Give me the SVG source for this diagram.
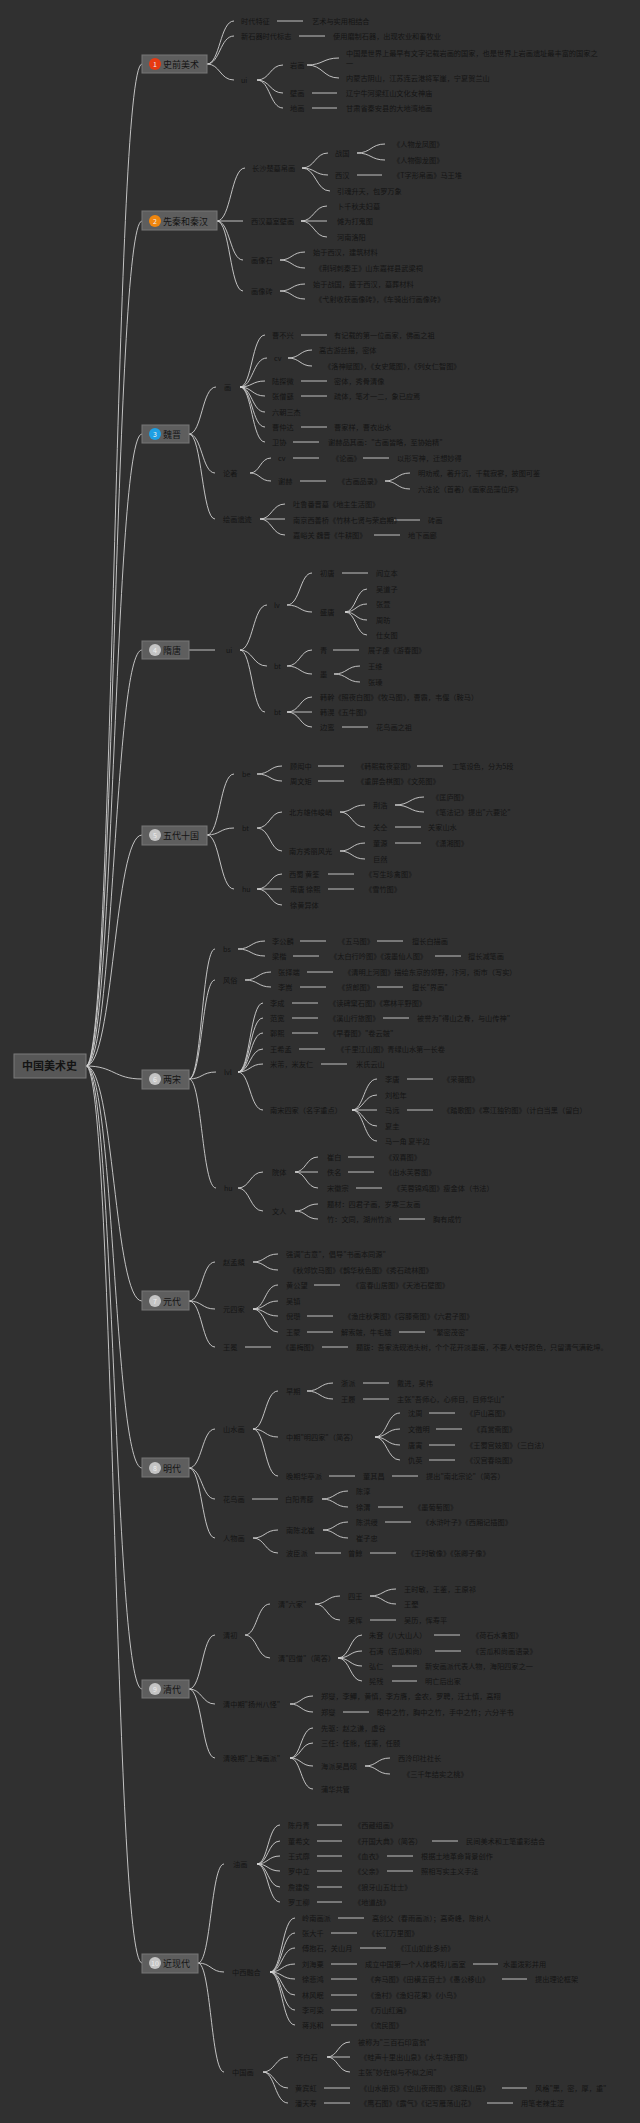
<svg xmlns="http://www.w3.org/2000/svg" width="640" height="2123" viewBox="0 0 640 2123">
<style>
text{font-family:"Noto Sans CJK SC","Noto Sans",sans-serif;fill:#141414}
.t{font-size:7.2px}
.s{font-size:9px}
.r{font-size:11px;font-weight:bold}
.n{font-size:7px;fill:#eeeeee}
.box{fill:#5e5e5e;stroke:#777;stroke-width:1}
#conn path{fill:none;stroke:#d2d2d2;stroke-width:0.9}
</style>
<rect width="640" height="2123" fill="#303030"/>
<g id="conn">
<path d="M86 1066C114 1066 114 64 142 64M86 1066C114 1066 114 221 142 221M86 1066C114 1066 114 434 142 434M86 1066C114 1066 114 650 142 650M86 1066C114 1066 114 835 142 835M86 1066C114 1066 114 1079 142 1079M86 1066C114 1066 114 1301 142 1301M86 1066C114 1066 114 1468 142 1468M86 1066C114 1066 114 1689 142 1689M86 1066C114 1066 114 1963 142 1963"/>
<path d="M207 64C220 64 220 21 234 21M207 64C220 64 220 36 234 36M207 64C220 64 220 80 234 80M277 21H303M299 36H325M257 80C270 80 270 65 283 65M257 80C270 80 270 93 283 93M257 80C270 80 270 108 283 108M307 65C323 65 323 58 339 58M307 65C323 65 323 78 339 78M312 93H337M312 108H337"/>
<path d="M217 221C231 221 231 168 245 168M217 221H243M217 221C230 221 230 260 243 260M217 221C230 221 230 291 243 291M302 168C315 168 315 153 328 153M302 168C315 168 315 175 328 175M302 168C316 168 316 191 330 191M357 153C371 153 371 144 385 144M357 153C371 153 371 160 385 160M357 175H382M301 221C314 221 314 206 327 206M301 221H327M301 221C314 221 314 237 327 237M280 260C292 260 292 252 305 252M280 260C292 260 292 268 305 268M280 291C292 291 292 284 305 284M280 291C292 291 292 299 305 299"/>
<path d="M189 434C202 434 202 387 216 387M189 434C202 434 202 473 215 473M189 434C202 434 202 519 215 519M240 387C252 387 252 335 265 335M240 387C253 387 253 358 267 358M240 387C252 387 252 381 265 381M240 387C252 387 252 396 265 396M240 387C252 387 252 412 265 412M240 387C252 387 252 427 265 427M240 387C252 387 252 442 265 442M288 358C300 358 300 350 312 350M288 358C300 358 300 366 312 366M301 335H327M301 381H327M301 396H327M301 427H327M293 442H319M250 473C260 473 260 458 271 458M250 473C260 473 260 481 271 481M293 458H319M363 458H389M300 481H326M385 481C397 481 397 473 410 473M385 481C397 481 397 489 410 489M260 519C272 519 272 504 285 504M260 519H285M260 519C272 519 272 535 285 535M394 520H420M374 535H400"/>
<path d="M189 650H215M240 650C253 650 253 605 267 605M240 650C253 650 253 666 267 666M240 650C252 650 252 712 265 712M287 605C300 605 300 573 312 573M287 605C300 605 300 612 312 612M342 573H368M345 612C356 612 356 589 367 589M345 612C356 612 356 604 367 604M345 612C356 612 356 620 367 620M345 612C356 612 356 635 367 635M287 666C300 666 300 650 312 650M287 666C300 666 300 674 312 674M333 650H359M334 674C347 674 347 666 360 666M334 674C347 674 347 682 360 682M287 712C300 712 300 697 312 697M287 712H312M287 712C300 712 300 727 312 727M342 727H368"/>
<path d="M207 835C220 835 220 774 234 774M207 835C220 835 220 828 234 828M207 835C220 835 220 889 234 889M257 774C270 774 270 766 282 766M257 774C270 774 270 781 282 781M318 766H344M417 766H443M318 781H344M257 828C270 828 270 812 282 812M257 828C270 828 270 851 282 851M340 812C352 812 352 805 365 805M340 812C352 812 352 827 365 827M395 805C410 805 410 797 424 797M395 805C410 805 410 812 424 812M395 827H421M340 851C352 851 352 843 365 843M340 851C352 851 352 859 365 859M395 843H421M257 889C270 889 270 874 282 874M257 889H282M257 889C270 889 270 905 282 905M328 874H354M328 889H354"/>
<path d="M189 1079C202 1079 202 949 215 949M189 1079C202 1079 202 980 215 980M189 1079C202 1079 202 1072 216 1072M189 1079C202 1079 202 1188 216 1188M238 949C251 949 251 941 265 941M238 949C251 949 251 956 265 956M300 941H326M377 941H403M293 956H319M435 956H461M245 980C258 980 258 972 271 972M245 980C258 980 258 987 271 987M307 972H333M300 987H326M377 987H403M238 1072C250 1072 250 1003 263 1003M238 1072C250 1072 250 1018 263 1018M238 1072C250 1072 250 1033 263 1033M238 1072C250 1072 250 1049 263 1049M238 1072C250 1072 250 1064 263 1064M238 1072C250 1072 250 1110 263 1110M292 1003H318M292 1018H318M383 1018H409M292 1033H318M299 1049H325M321 1064H347M352 1110C364 1110 364 1079 377 1079M352 1110C364 1110 364 1095 377 1095M352 1110H377M352 1110C364 1110 364 1126 377 1126M352 1110C364 1110 364 1141 377 1141M407 1079H433M407 1110H433M238 1188C250 1188 250 1172 263 1172M238 1188C250 1188 250 1211 263 1211M295 1172C306 1172 306 1157 318 1157M295 1172H318M295 1172C306 1172 306 1188 318 1188M348 1157H374M348 1172H374M356 1188H382M295 1211C306 1211 306 1204 318 1204M295 1211C306 1211 306 1219 318 1219M399 1219H425"/>
<path d="M189 1301C202 1301 202 1262 215 1262M189 1301C202 1301 202 1309 215 1309M189 1301C202 1301 202 1347 215 1347M253 1262C265 1262 265 1254 278 1254M253 1262C265 1262 265 1270 278 1270M253 1309C265 1309 265 1285 278 1285M253 1309C265 1309 265 1301 278 1301M253 1309C265 1309 265 1316 278 1316M253 1309C265 1309 265 1332 278 1332M314 1285H340M307 1316H333M307 1332H333M399 1332H425M245 1347H271M322 1347H348"/>
<path d="M189 1468C202 1468 202 1429 215 1429M189 1468C202 1468 202 1499 215 1499M189 1468C202 1468 202 1538 215 1538M253 1429C265 1429 265 1391 278 1391M253 1429C265 1429 265 1437 278 1437M253 1429C265 1429 265 1476 278 1476M307 1391C320 1391 320 1383 333 1383M307 1391C320 1391 320 1399 333 1399M363 1383H389M363 1399H389M375 1437C387 1437 387 1413 400 1413M375 1437C387 1437 387 1429 400 1429M375 1437C387 1437 387 1445 400 1445M375 1437C387 1437 387 1460 400 1460M429 1413H455M436 1429H462M429 1445H455M429 1460H455M329 1476H355M392 1476H418M252 1499H278M322 1499C335 1499 335 1491 348 1491M322 1499C335 1499 335 1507 348 1507M378 1507H403M253 1538C265 1538 265 1530 278 1530M253 1538C265 1538 265 1553 278 1553M323 1530C335 1530 335 1522 348 1522M323 1530C335 1530 335 1538 348 1538M385 1522H411M315 1553H341M370 1553H396"/>
<path d="M189 1689C202 1689 202 1635 215 1635M189 1689C202 1689 202 1704 215 1704M189 1689C202 1689 202 1758 215 1758M245 1635C257 1635 257 1604 270 1604M245 1635C257 1635 257 1658 270 1658M315 1604C327 1604 327 1596 340 1596M315 1604C327 1604 327 1620 340 1620M370 1596C383 1596 383 1589 396 1589M370 1596C383 1596 383 1604 396 1604M370 1620H396M338 1658C350 1658 350 1635 362 1635M338 1658C350 1658 350 1651 362 1651M338 1658C350 1658 350 1666 362 1666M338 1658C350 1658 350 1681 362 1681M434 1635H460M435 1651H461M392 1666H417M392 1681H417M290 1704C301 1704 301 1696 313 1696M290 1704C301 1704 301 1712 313 1712M343 1712H369M290 1758C301 1758 301 1728 313 1728M290 1758C301 1758 301 1743 313 1743M290 1758C301 1758 301 1766 313 1766M290 1758C301 1758 301 1789 313 1789M365 1766C377 1766 377 1758 390 1758M365 1766C377 1766 377 1774 390 1774"/>
<path d="M198 1963C211 1963 211 1864 224 1864M198 1963C211 1963 211 1972 224 1972M198 1963C211 1963 211 2072 224 2072M257 1864C268 1864 268 1825 280 1825M257 1864C268 1864 268 1841 280 1841M257 1864C268 1864 268 1856 280 1856M257 1864C268 1864 268 1871 280 1871M257 1864C268 1864 268 1887 280 1887M257 1864C268 1864 268 1902 280 1902M317 1825H342M317 1841H342M432 1841H458M317 1856H342M387 1856H413M317 1871H342M387 1871H413M317 1887H342M317 1902H342M270 1972C282 1972 282 1918 295 1918M270 1972C282 1972 282 1933 295 1933M270 1972C282 1972 282 1948 295 1948M270 1972C282 1972 282 1964 295 1964M270 1972C282 1972 282 1979 295 1979M270 1972C282 1972 282 1995 295 1995M270 1972C282 1972 282 2010 295 2010M270 1972C282 1972 282 2025 295 2025M338 1918H364M331 1933H357M360 1948H386M331 1964H357M473 1964H498M331 1979H357M502 1979H527M331 1995H357M331 2010H357M331 2025H357M263 2072C275 2072 275 2057 288 2057M263 2072C275 2072 275 2088 288 2088M263 2072C275 2072 275 2103 288 2103M327 2057C338 2057 338 2042 350 2042M327 2057H350M327 2057C338 2057 338 2072 350 2072M324 2088H350M502 2088H527M324 2103H350M487 2103H513"/>
</g>
<g id="root"><rect x="14" y="1054" width="72" height="24" fill="#575757" stroke="#7a7a7a"/><text class="r" x="22" y="1070">中国美术史</text></g>
<g id="s1"><rect class="box" x="142" y="55" width="65" height="18"/><circle cx="155" cy="64" r="6" fill="#e63a12"/><text class="n" x="153" y="66.5">1</text><text class="s" x="163" y="67.5">史前美术</text></g>
<g id="s1c" class="t">
<text class="t" x="241" y="23.5">时代特征</text><text class="t" x="312" y="23.5">艺术与实用相结合</text>
<text class="t" x="241" y="38.5">新石器时代标志</text><text class="t" x="333" y="38.5">使用磨制石器，出现农业和畜牧业</text>
<text class="t" x="241" y="82.5">ui</text>
<text class="t" x="290" y="67.5">岩画</text>
<text class="t" x="346" y="55.5">中国是世界上最早有文字记载岩画的国家，也是世界上岩画遗址最丰富的国家之</text><text class="t" x="346" y="65.5">一</text>
<text class="t" x="346" y="80.5">内蒙古阴山，江苏连云港将军崖，宁夏贺兰山</text>
<text class="t" x="290" y="95.5">壁画</text><text class="t" x="346" y="95.5">辽宁牛河梁红山文化女神庙</text>
<text class="t" x="290" y="110.5">地画</text><text class="t" x="346" y="110.5">甘肃省秦安县的大地湾地画</text>
</g>
<g id="s2"><rect class="box" x="142" y="211" width="75" height="19"/><circle cx="155" cy="221" r="6" fill="#f0860e"/><text class="n" x="153" y="223.5">2</text><text class="s" x="163" y="224.5">先秦和秦汉</text></g>
<g id="s2c">
<text class="t" x="252" y="170.5">长沙楚墓帛画</text>
<text class="t" x="335" y="155.5">战国</text><text class="t" x="393" y="146.5">《人物龙凤图》</text><text class="t" x="393" y="162.5">《人物御龙图》</text>
<text class="t" x="335" y="177.5">西汉</text><text class="t" x="393" y="177.5">《T字形帛画》马王堆</text>
<text class="t" x="337" y="193.5">引魂升天，包罗万象</text>
<text class="t" x="251" y="223.5">西汉墓室壁画</text>
<text class="t" x="337" y="208.5">卜千秋夫妇墓</text><text class="t" x="337" y="223.5">傩为打鬼图</text><text class="t" x="337" y="239.5">河南洛阳</text>
<text class="t" x="251" y="262.5">画像石</text><text class="t" x="313" y="254.5">始于西汉，建筑材料</text><text class="t" x="315" y="270.5">《荆轲刺秦王》山东嘉祥县武梁祠</text>
<text class="t" x="251" y="293.5">画像砖</text><text class="t" x="313" y="286.5">始于战国，盛于西汉，墓葬材料</text><text class="t" x="315" y="301.5">《弋射收获画像砖》，《车骑出行画像砖》</text>
</g>
<g id="s3"><rect class="box" x="142" y="425" width="47" height="18"/><circle cx="155" cy="434" r="6" fill="#1e9fe3"/><text class="n" x="153" y="436.5">3</text><text class="s" x="163" y="437.5">魏晋</text></g>
<g id="s3c">
<text class="t" x="224" y="389.5">画</text>
<text class="t" x="272" y="337.5">曹不兴</text><text class="t" x="334" y="337.5">有记载的第一位画家，佛画之祖</text>
<text class="t" x="274" y="360.5">cv</text><text class="t" x="319" y="352.5">高古游丝描，密体</text><text class="t" x="324" y="368.5">《洛神赋图》，《女史箴图》，《列女仁智图》</text>
<text class="t" x="272" y="383.5">陆探微</text><text class="t" x="334" y="383.5">密体，秀骨清像</text>
<text class="t" x="272" y="398.5">张僧繇</text><text class="t" x="334" y="398.5">疏体，笔才一二，象已应焉</text>
<text class="t" x="272" y="414.5">六朝三杰</text>
<text class="t" x="272" y="429.5">曹仲达</text><text class="t" x="334" y="429.5">曹家样，曹衣出水</text>
<text class="t" x="272" y="444.5">卫协</text><text class="t" x="328" y="444.5">谢赫品其画："古画皆略，至协始精"</text>
<text class="t" x="223" y="475.5">论著</text>
<text class="t" x="278" y="460.5">cv</text><text class="t" x="332" y="460.5">《论画》</text><text class="t" x="397" y="460.5">以形写神，迁想妙得</text>
<text class="t" x="278" y="483.5">谢赫</text><text class="t" x="338" y="483.5">《古画品录》</text>
<text class="t" x="418" y="475.5">明劝戒，著升沉，千载寂寥，披图可鉴</text><text class="t" x="418" y="491.5">六法论（首著）《画家品藻位序》</text>
<text class="t" x="223" y="521.5">绘画遗迹</text>
<text class="t" x="293" y="506.5">吐鲁番晋墓《地主生活图》</text>
<text class="t" x="293" y="522.5">南京西善桥《竹林七贤与荣启期》</text><text class="t" x="428" y="522.5">砖画</text>
<text class="t" x="293" y="537.5">嘉峪关 魏晋《牛耕图》</text><text class="t" x="408" y="537.5">地下画廊</text>
</g>
<g id="s4"><rect class="box" x="142" y="641" width="47" height="18"/><circle cx="155" cy="650" r="6" fill="#c4c4c4"/><text class="n" x="153" y="652.5">4</text><text class="s" x="163" y="653.5">隋唐</text></g>
<g id="s4c">
<text class="t" x="226" y="652.5">ui</text>
<text class="t" x="274" y="607.5">lv</text>
<text class="t" x="320" y="575.5">初唐</text><text class="t" x="376" y="575.5">阎立本</text>
<text class="t" x="320" y="614.5">盛唐</text>
<text class="t" x="376" y="591.5">吴道子</text><text class="t" x="376" y="606.5">张萱</text><text class="t" x="376" y="622.5">周昉</text><text class="t" x="376" y="637.5">仕女图</text>
<text class="t" x="274" y="668.5">bt</text>
<text class="t" x="320" y="652.5">青</text><text class="t" x="368" y="652.5">展子虔《游春图》</text>
<text class="t" x="320" y="676.5">墨</text><text class="t" x="368" y="668.5">王维</text><text class="t" x="368" y="684.5">张璪</text>
<text class="t" x="274" y="714.5">bt</text>
<text class="t" x="320" y="699.5">韩幹《照夜白图》《牧马图》，曹霸，韦偃（鞍马）</text>
<text class="t" x="320" y="714.5">韩滉《五牛图》</text>
<text class="t" x="320" y="729.5">边鸾</text><text class="t" x="376" y="729.5">花鸟画之祖</text>
</g>
<g id="s5"><rect class="box" x="142" y="826" width="65" height="19"/><circle cx="155" cy="835" r="6" fill="#c4c4c4"/><text class="n" x="153" y="837.5">5</text><text class="s" x="163" y="838.5">五代十国</text></g>
<g id="s5c">
<text class="t" x="242" y="776.5">be</text>
<text class="t" x="290" y="768.5">顾闳中</text><text class="t" x="357" y="768.5">《韩熙载夜宴图》</text><text class="t" x="452" y="768.5">工笔设色，分为5段</text>
<text class="t" x="290" y="783.5">周文矩</text><text class="t" x="357" y="783.5">《重屏会棋图》《文苑图》</text>
<text class="t" x="242" y="830.5">bt</text>
<text class="t" x="289" y="814.5">北方雄伟峻峭</text>
<text class="t" x="373" y="807.5">荆浩</text><text class="t" x="432" y="799.5">《匡庐图》</text><text class="t" x="432" y="814.5">《笔法记》提出"六要论"</text>
<text class="t" x="373" y="829.5">关仝</text><text class="t" x="428" y="829.5">关家山水</text>
<text class="t" x="289" y="853.5">南方秀丽风光</text>
<text class="t" x="373" y="845.5">董源</text><text class="t" x="432" y="845.5">《潇湘图》</text>
<text class="t" x="373" y="861.5">巨然</text>
<text class="t" x="242" y="891.5">hu</text>
<text class="t" x="289" y="876.5">西蜀 黄筌</text><text class="t" x="365" y="876.5">《写生珍禽图》</text>
<text class="t" x="290" y="891.5">南唐 徐熙</text><text class="t" x="365" y="891.5">《雪竹图》</text>
<text class="t" x="290" y="907.5">徐黄异体</text>
</g>
<g id="s6"><rect class="box" x="142" y="1070" width="47" height="19"/><circle cx="155" cy="1079" r="6" fill="#c4c4c4"/><text class="n" x="153" y="1081.5">6</text><text class="s" x="163" y="1082.5">两宋</text></g>
<g id="s6c">
<text class="t" x="223" y="951.5">bs</text>
<text class="t" x="272" y="943.5">李公麟</text><text class="t" x="338" y="943.5">《五马图》</text><text class="t" x="412" y="943.5">擅长白描画</text>
<text class="t" x="272" y="958.5">梁楷</text><text class="t" x="330" y="958.5">《太白行吟图》《泼墨仙人图》</text><text class="t" x="468" y="958.5">擅长减笔画</text>
<text class="t" x="223" y="982.5">风俗</text>
<text class="t" x="278" y="974.5">张择端</text><text class="t" x="344" y="974.5">《清明上河图》描绘东京的郊野，汴河，街市（写实）</text>
<text class="t" x="278" y="989.5">李嵩</text><text class="t" x="338" y="989.5">《货郎图》</text><text class="t" x="412" y="989.5">擅长"界画"</text>
<text class="t" x="224" y="1074.5">lvl</text>
<text class="t" x="270" y="1005.5">李成</text><text class="t" x="329" y="1005.5">《读碑窠石图》《寒林平野图》</text>
<text class="t" x="270" y="1020.5">范宽</text><text class="t" x="329" y="1020.5">《溪山行旅图》</text><text class="t" x="417" y="1020.5">被誉为"得山之骨，与山传神"</text>
<text class="t" x="270" y="1035.5">郭熙</text><text class="t" x="329" y="1035.5">《早春图》"卷云皴"</text>
<text class="t" x="270" y="1051.5">王希孟</text><text class="t" x="337" y="1051.5">《千里江山图》青绿山水第一长卷</text>
<text class="t" x="270" y="1066.5">米芾，米友仁</text><text class="t" x="356" y="1066.5">米氏云山</text>
<text class="t" x="270" y="1112.5">南宋四家（名字重点）</text>
<text class="t" x="385" y="1081.5">李唐</text><text class="t" x="443" y="1081.5">《采薇图》</text>
<text class="t" x="385" y="1097.5">刘松年</text>
<text class="t" x="385" y="1112.5">马远</text><text class="t" x="443" y="1112.5">《踏歌图》《寒江独钓图》（计白当黑（留白）</text>
<text class="t" x="385" y="1128.5">夏圭</text>
<text class="t" x="385" y="1143.5">马一角 夏半边</text>
<text class="t" x="224" y="1190.5">hu</text>
<text class="t" x="272" y="1174.5">院体</text>
<text class="t" x="327" y="1159.5">崔白</text><text class="t" x="385" y="1159.5">《双喜图》</text>
<text class="t" x="327" y="1174.5">佚名</text><text class="t" x="385" y="1174.5">《出水芙蓉图》</text>
<text class="t" x="327" y="1190.5">宋徽宗</text><text class="t" x="393" y="1190.5">《芙蓉锦鸡图》瘦金体（书法）</text>
<text class="t" x="272" y="1213.5">文人</text>
<text class="t" x="327" y="1206.5">题材：四君子画，岁寒三友画</text>
<text class="t" x="327" y="1221.5">竹：文同，湖州竹派</text><text class="t" x="433" y="1221.5">胸有成竹</text>
</g>
<g id="s7"><rect class="box" x="142" y="1291" width="47" height="19"/><circle cx="155" cy="1301" r="6" fill="#c4c4c4"/><text class="n" x="153" y="1303.5">7</text><text class="s" x="163" y="1304.5">元代</text></g>
<g id="s7c">
<text class="t" x="223" y="1264.5">赵孟頫</text>
<text class="t" x="286" y="1256.5">强调"古意"，倡导"书画本同源"</text><text class="t" x="289" y="1272.5">《秋郊饮马图》《鹊华秋色图》《秀石疏林图》</text>
<text class="t" x="223" y="1311.5">元四家</text>
<text class="t" x="286" y="1287.5">黄公望</text><text class="t" x="352" y="1287.5">《富春山居图》《天池石壁图》</text>
<text class="t" x="286" y="1303.5">吴镇</text>
<text class="t" x="286" y="1318.5">倪瓒</text><text class="t" x="344" y="1318.5">《渔庄秋霁图》《容膝斋图》《六君子图》</text>
<text class="t" x="286" y="1334.5">王蒙</text><text class="t" x="341" y="1334.5">解索皴，牛毛皴</text><text class="t" x="433" y="1334.5">"繁密茂密"</text>
<text class="t" x="223" y="1349.5">王冕</text><text class="t" x="282" y="1349.5">《墨梅图》</text><text class="t" x="356" y="1349.5">题跋：吾家洗砚池头树，个个花开淡墨痕，不要人夸好颜色，只留清气满乾坤。</text>
</g>
<g id="s8"><rect class="box" x="142" y="1458" width="47" height="19"/><circle cx="155" cy="1468" r="6" fill="#c4c4c4"/><text class="n" x="153" y="1470.5">8</text><text class="s" x="163" y="1471.5">明代</text></g>
<g id="s8c">
<text class="t" x="223" y="1431.5">山水画</text>
<text class="t" x="286" y="1393.5">早期</text>
<text class="t" x="341" y="1385.5">浙派</text><text class="t" x="397" y="1385.5">戴进，吴伟</text>
<text class="t" x="341" y="1401.5">王履</text><text class="t" x="397" y="1401.5">主张"吾师心，心师目，目师华山"</text>
<text class="t" x="286" y="1439.5">中期"明四家"（简答）</text>
<text class="t" x="408" y="1415.5">沈周</text><text class="t" x="466" y="1415.5">《庐山高图》</text>
<text class="t" x="408" y="1431.5">文徵明</text><text class="t" x="473" y="1431.5">《真赏斋图》</text>
<text class="t" x="408" y="1447.5">唐寅</text><text class="t" x="466" y="1447.5">《王蜀宫妓图》（三白法）</text>
<text class="t" x="408" y="1462.5">仇英</text><text class="t" x="466" y="1462.5">《汉宫春晓图》</text>
<text class="t" x="286" y="1478.5">晚期华亭派</text><text class="t" x="363" y="1478.5">董其昌</text><text class="t" x="426" y="1478.5">提出"南北宗论"（简答）</text>
<text class="t" x="223" y="1501.5">花鸟画</text><text class="t" x="285" y="1501.5">白阳青藤</text>
<text class="t" x="356" y="1493.5">陈淳</text>
<text class="t" x="356" y="1509.5">徐渭</text><text class="t" x="414" y="1509.5">《墨葡萄图》</text>
<text class="t" x="223" y="1540.5">人物画</text>
<text class="t" x="286" y="1532.5">南陈北崔</text>
<text class="t" x="356" y="1524.5">陈洪绶</text><text class="t" x="422" y="1524.5">《水浒叶子》《西厢记插图》</text>
<text class="t" x="356" y="1540.5">崔子忠</text>
<text class="t" x="286" y="1555.5">波臣派</text><text class="t" x="348" y="1555.5">曾鲸</text><text class="t" x="407" y="1555.5">《王时敏像》《张卿子像》</text>
</g>
<g id="s9"><rect class="box" x="142" y="1680" width="47" height="18"/><circle cx="155" cy="1689" r="6" fill="#c4c4c4"/><text class="n" x="153" y="1691.5">9</text><text class="s" x="163" y="1692.5">清代</text></g>
<g id="s9c">
<text class="t" x="223" y="1637.5">清初</text>
<text class="t" x="278" y="1606.5">清"六家"</text>
<text class="t" x="348" y="1598.5">四王</text><text class="t" x="404" y="1591.5">王时敏，王鉴，王原祁</text><text class="t" x="404" y="1606.5">王翚</text>
<text class="t" x="348" y="1622.5">吴恽</text><text class="t" x="404" y="1622.5">吴历，恽寿平</text>
<text class="t" x="278" y="1660.5">清"四僧"（简答）</text>
<text class="t" x="369" y="1637.5">朱耷（八大山人）</text><text class="t" x="472" y="1637.5">《荷石水禽图》</text>
<text class="t" x="369" y="1653.5">石涛（苦瓜和尚）</text><text class="t" x="472" y="1653.5">《苦瓜和尚画语录》</text>
<text class="t" x="369" y="1668.5">弘仁</text><text class="t" x="425" y="1668.5">新安画派代表人物，海阳四家之一</text>
<text class="t" x="369" y="1683.5">髡残</text><text class="t" x="425" y="1683.5">明亡后出家</text>
<text class="t" x="223" y="1706.5">清中期"扬州八怪"</text>
<text class="t" x="321" y="1698.5">郑燮，李鱓，黄慎，李方膺，金农，罗聘，汪士慎，高翔</text>
<text class="t" x="321" y="1714.5">郑燮</text><text class="t" x="377" y="1714.5">眼中之竹，胸中之竹，手中之竹；六分半书</text>
<text class="t" x="223" y="1760.5">清晚期"上海画派"</text>
<text class="t" x="321" y="1730.5">先驱：赵之谦，虚谷</text>
<text class="t" x="321" y="1745.5">三任：任熊，任薰，任颐</text>
<text class="t" x="321" y="1768.5">海派吴昌硕</text><text class="t" x="398" y="1760.5">西泠印社社长</text><text class="t" x="403" y="1776.5">《三千年结实之桃》</text>
<text class="t" x="321" y="1791.5">蒲华共管</text>
</g>
<g id="s10"><rect class="box" x="142" y="1954" width="56" height="19"/><circle cx="155" cy="1963" r="6" fill="#c4c4c4"/><text class="n" x="151" y="1965.5">10</text><text class="s" x="163" y="1966.5">近现代</text></g>
<g id="s10c">
<text class="t" x="233" y="1866.5">油画</text>
<text class="t" x="288" y="1827.5">陈丹青</text><text class="t" x="354" y="1827.5">《西藏组画》</text>
<text class="t" x="288" y="1843.5">董希文</text><text class="t" x="354" y="1843.5">《开国大典》（简答）</text><text class="t" x="466" y="1843.5">民间美术和工笔重彩结合</text>
<text class="t" x="288" y="1858.5">王式廓</text><text class="t" x="354" y="1858.5">《血衣》</text><text class="t" x="421" y="1858.5">根据土地革命背景创作</text>
<text class="t" x="288" y="1873.5">罗中立</text><text class="t" x="354" y="1873.5">《父亲》</text><text class="t" x="421" y="1873.5">照相写实主义手法</text>
<text class="t" x="288" y="1889.5">詹建俊</text><text class="t" x="354" y="1889.5">《狼牙山五壮士》</text>
<text class="t" x="288" y="1904.5">罗工柳</text><text class="t" x="354" y="1904.5">《地道战》</text>
<text class="t" x="232" y="1974.5">中西融合</text>
<text class="t" x="302" y="1920.5">岭南画派</text><text class="t" x="372" y="1920.5">高剑父（春雨画派）；高奇峰，陈树人</text>
<text class="t" x="302" y="1935.5">张大千</text><text class="t" x="368" y="1935.5">《长江万里图》</text>
<text class="t" x="302" y="1950.5">傅抱石，关山月</text><text class="t" x="397" y="1950.5">《江山如此多娇》</text>
<text class="t" x="302" y="1966.5">刘海粟</text><text class="t" x="365" y="1966.5">成立中国第一个人体模特儿画室</text><text class="t" x="503" y="1966.5">水墨泼彩并用</text>
<text class="t" x="302" y="1981.5">徐悲鸿</text><text class="t" x="367" y="1981.5">《奔马图》《田横五百士》《愚公移山》</text><text class="t" x="535" y="1981.5">提出理论框架</text>
<text class="t" x="302" y="1997.5">林风眠</text><text class="t" x="367" y="1997.5">《渔村》《渔妇花果》《小鸟》</text>
<text class="t" x="302" y="2012.5">李可染</text><text class="t" x="367" y="2012.5">《万山红遍》</text>
<text class="t" x="302" y="2027.5">蒋兆和</text><text class="t" x="367" y="2027.5">《流民图》</text>
<text class="t" x="232" y="2074.5">中国画</text>
<text class="t" x="296" y="2059.5">齐白石</text>
<text class="t" x="358" y="2044.5">被称为"三百石印富翁"</text><text class="t" x="360" y="2059.5">《蛙声十里出山泉》《水牛洗虾图》</text><text class="t" x="358" y="2074.5">主张"妙在似与不似之间"</text>
<text class="t" x="295" y="2090.5">黄宾虹</text><text class="t" x="360" y="2090.5">《山水册页》《空山夜雨图》《湖滨山居》</text><text class="t" x="535" y="2090.5">风格"黑，密，厚，重"</text>
<text class="t" x="295" y="2105.5">潘天寿</text><text class="t" x="360" y="2105.5">《鹰石图》《露气》《记写雁荡山花》</text><text class="t" x="521" y="2105.5">用笔老辣生涩</text>
</g>
</svg>
